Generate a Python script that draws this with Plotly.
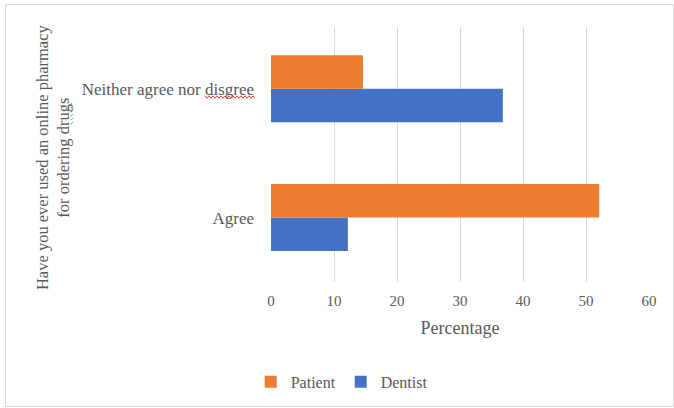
import math
import plotly.graph_objects as go

# Survey responses (percent of respondents)
categories = ["Agree", "Neither agree nor disgree"]
patient = [52.1, 14.6]
dentist = [12.2, 36.8]
x_ticks = [0, 10, 20, 30, 40, 50, 60]

ORANGE = "#ED7D31"
BLUE = "#4472C4"
GREY_TEXT = "#595959"
GRID = "#D9D9D9"
FONT = "Liberation Serif"

W, H = 674, 408
L, R, T, B = 271, 25, 27, 126
plot_w = W - L - R
plot_h = H - T - B


def px_x(px):
    return (px - L) / plot_w


def px_y(py):
    return (H - B - py) / plot_h


def squiggle(x0, x1, y0, y1, step=2.0, amp=1.2):
    """Wavy proofing underline between two pixel points, as an SVG path in paper units."""
    n = max(2, int(math.hypot(x1 - x0, y1 - y0) / step))
    dx, dy = (x1 - x0) / n, (y1 - y0) / n
    length = math.hypot(dx, dy)
    nx, ny = -dy / length, dx / length
    pts = []
    for i in range(n + 1):
        s = amp if i % 2 else -amp
        px, py = x0 + dx * i + nx * s, y0 + dy * i + ny * s
        pts.append(f"{px_x(px):.5f},{px_y(py):.5f}")
    return "M " + " L ".join(pts)


fig = go.Figure()
# Dentist first so that Patient sits above it in each group
fig.add_trace(go.Bar(y=categories, x=dentist, name="Dentist", orientation="h",
                     marker=dict(color=BLUE, line=dict(width=0))))
fig.add_trace(go.Bar(y=categories, x=patient, name="Patient", orientation="h",
                     marker=dict(color=ORANGE, line=dict(width=0))))

fig.update_layout(
    width=W, height=H,
    margin=dict(l=L, r=R, t=T, b=B),
    paper_bgcolor="white", plot_bgcolor="white",
    font=dict(family=FONT, color=GREY_TEXT),
    barmode="group", bargap=0.48, bargroupgap=0,
    xaxis=dict(
        range=[0, 60], tickvals=x_ticks, showgrid=True, gridcolor=GRID, gridwidth=1,
        zeroline=False, showline=False, ticks="", tickfont=dict(size=15, color=GREY_TEXT),
        ticklabelstandoff=8,
        title=dict(text="Percentage", font=dict(size=18, color=GREY_TEXT), standoff=13),
    ),
    yaxis=dict(
        range=[-0.5, 1.48], showgrid=False, zeroline=False, showline=False, ticks="",
        tickfont=dict(size=17, color=GREY_TEXT), ticklabelstandoff=16,
    ),
    legend=dict(
        orientation="h", traceorder="reversed",
        xref="container", yref="container", x=0.507, y=0.064,
        xanchor="center", yanchor="middle",
        font=dict(size=16, color=GREY_TEXT), itemwidth=30,
    ),
    showlegend=True,
    annotations=[dict(
        text="Have you ever used an online pharmacy<br>for ordering drugs",
        xref="paper", yref="paper", x=px_x(53), y=0.49,
        xanchor="center", yanchor="middle", textangle=-90, showarrow=False,
        align="center", font=dict(size=16.5, color=GREY_TEXT, family=FONT),
    )],
    shapes=[
        dict(type="rect", xref="paper", yref="paper",
             x0=px_x(5.5), x1=px_x(673.5), y0=px_y(406.5), y1=px_y(4.5),
             line=dict(color=GRID, width=1), fillcolor="rgba(0,0,0,0)", layer="below"),
        # proofing marks under "disgree" and "drugs"
        dict(type="path", xref="paper", yref="paper", path=squiggle(205, 255, 97, 97),
             line=dict(color="#E04040", width=1)),
        dict(type="path", xref="paper", yref="paper", path=squiggle(72, 72, 124, 102),
             line=dict(color="#5CB85C", width=1, dash="dot")),
    ],
)

fig.write_html("out.html")
